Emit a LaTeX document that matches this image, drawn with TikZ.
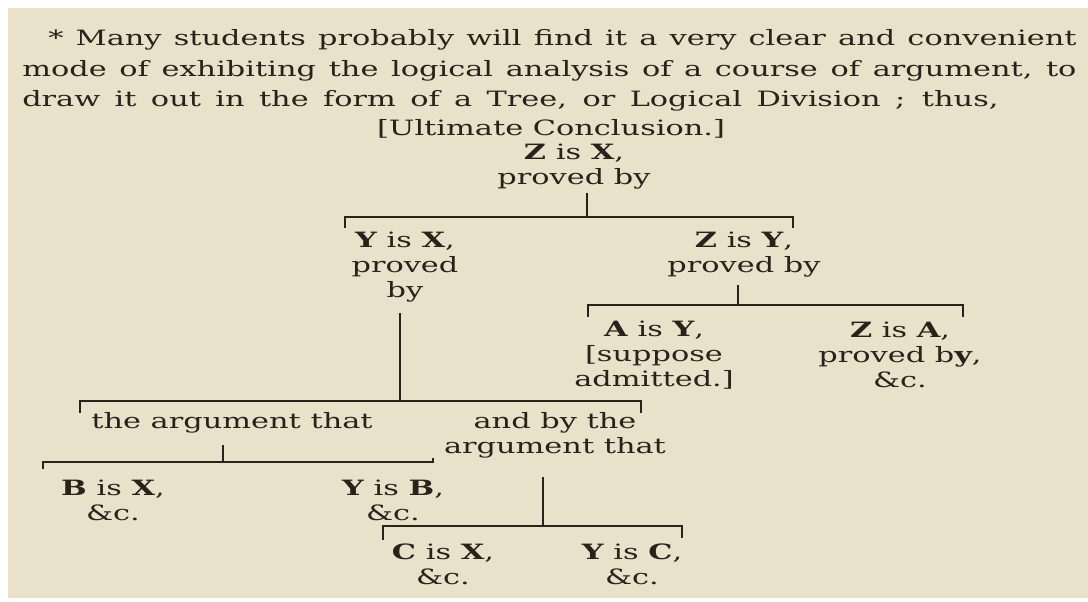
\documentclass[tikz,border=0pt]{standalone}
\usepackage{fontspec}
\usetikzlibrary{calc}
\newfontfamily\treefont[FakeStretch=1.44]{DejaVu Serif}
\newfontfamily\bodyfont[FakeStretch=1.44]{DejaVu Serif}
\definecolor{paper}{RGB}{233,225,201}
\definecolor{ink}{RGB}{42,33,26}

\begin{document}
\begin{tikzpicture}[x=0.025cm, y=-0.025cm,
  body/.style={font=\bodyfont\fontsize{15}{18}\selectfont, inner sep=0pt, text=ink},
  leaf/.style={font=\treefont\fontsize{15}{17.7}\selectfont, inner sep=0pt, align=center, text=ink},
  bar/.style={ink, line width=1.2pt}]
  \fill[white] (0,0) rectangle (1088,601);
  \fill[paper] (8,8) rectangle (1088,598);
  \node[body, anchor=west] (introa) at (48,40) {\makebox[25.7cm][s]{* Many students probably will find it a very clear and convenient}};
  \node[body, anchor=west] (introb) at (22,71) {\makebox[26.35cm][s]{mode of exhibiting the logical analysis of a course of argument, to}};
  \node[body, anchor=west] (introc) at (22,101) {\makebox[24.4cm][s]{draw it out in the form of a Tree, or Logical Division ; thus,}};
  \node[body] (ultim) at (551,129) {[Ultimate Conclusion.]};
  \node[leaf] (zx) at (574,167) {\textbf{Z} is \textbf{X},\\proved by};
  \node[leaf] (yx) at (405,267) {\textbf{Y} is \textbf{X},\\proved\\by};
  \node[leaf] (zy) at (744,255) {\textbf{Z} is \textbf{Y},\\proved by};
  \node[leaf] (ay) at (654,355) {\textbf{A} is \textbf{Y},\\{[}suppose\\admitted.]};
  \node[leaf] (za) at (900,355) {\textbf{Z} is \textbf{A},\\proved b\textbf{y},\\\&c.};
  \node[leaf] (arga) at (232,423) {the argument that};
  \node[leaf] (argb) at (555,435) {and by the\\argument that};
  \node[leaf] (bx) at (113,500) {\textbf{B} is \textbf{X},\\\&c.};
  \node[leaf] (yb) at (393,500) {\textbf{Y} is \textbf{B},\\\&c.};
  \node[leaf] (cx) at (443,564) {\textbf{C} is \textbf{X},\\\&c.};
  \node[leaf] (yc) at (632,564) {\textbf{Y} is \textbf{C},\\\&c.};
  \coordinate (ta) at (587,193);
  \coordinate (ma) at (587,217);
  \coordinate (la) at (345,217);
  \coordinate (ra) at (793,217);
  \coordinate (tb) at (738,285);
  \coordinate (mb) at (738,305);
  \coordinate (lb) at (588,305);
  \coordinate (rb) at (963,305);
  \coordinate (tc) at (400,313);
  \coordinate (mc) at (400,401);
  \coordinate (lc) at (80,401);
  \coordinate (rc) at (641,401);
  \coordinate (td) at (223,445);
  \coordinate (md) at (223,462);
  \coordinate (ld) at (43,462);
  \coordinate (rd) at (433,462);
  \coordinate (te) at (543,477);
  \coordinate (me) at (543,526);
  \coordinate (le) at (383,526);
  \coordinate (re) at (682,526);
  \draw[bar] (ta) -- (ma);
  \draw[bar] ($(la)+(0,11)$) -- (la) -- (ra) -- ++(0,11);
  \draw[bar] (tb) -- (mb);
  \draw[bar] ($(lb)+(0,12)$) -- (lb) -- (rb) -- ++(0,12);
  \draw[bar] (tc) -- (mc);
  \draw[bar] ($(lc)+(0,12)$) -- (lc) -- (rc) -- ++(0,12);
  \draw[bar] (td) -- (md);
  \draw[bar] ($(ld)+(0,7)$) -- (ld) -- (rd) -- ++(0,-4);
  \draw[bar] (te) -- (me);
  \draw[bar] ($(le)+(0,14)$) -- (le) -- (re) -- ++(0,12);
\end{tikzpicture}
\end{document}
